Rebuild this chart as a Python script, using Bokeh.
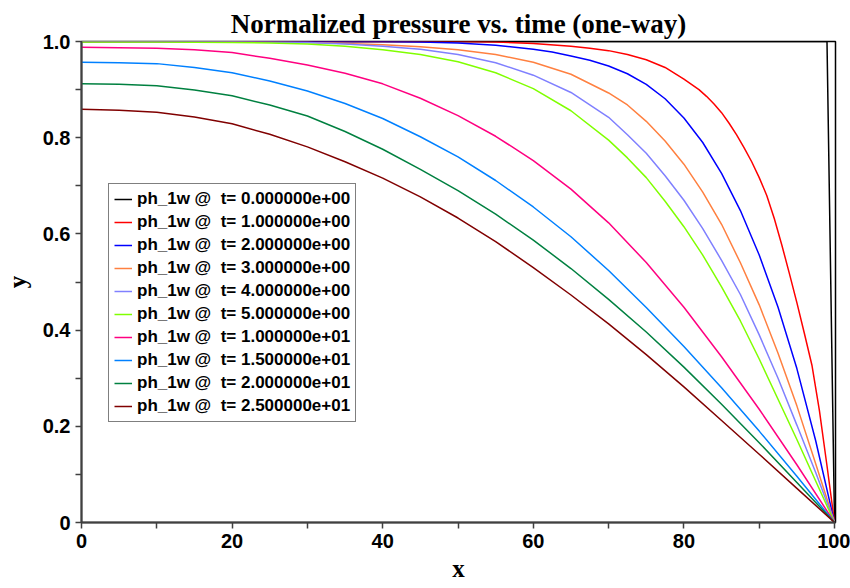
from bokeh.plotting import figure
from bokeh.models import Range1d, FixedTicker, Legend, LegendItem
from bokeh.embed import file_html
from bokeh.resources import INLINE

# ---------------- data ----------------
title_text = "Normalized pressure vs. time (one-way)"
x_label = "x"
y_label = "y"

x_ticks = [0, 20, 40, 60, 80, 100]
x_minor = [10, 30, 50, 70, 90]
y_ticks = [0, 0.2, 0.4, 0.6, 0.8, 1.0]
y_tick_labels = ["0", "0.2", "0.4", "0.6", "0.8", "1.0"]
y_minor = [0.1, 0.3, 0.5, 0.7, 0.9]

names = [
    "ph_1w @  t= 0.000000e+00",
    "ph_1w @  t= 1.000000e+00",
    "ph_1w @  t= 2.000000e+00",
    "ph_1w @  t= 3.000000e+00",
    "ph_1w @  t= 4.000000e+00",
    "ph_1w @  t= 5.000000e+00",
    "ph_1w @  t= 1.000000e+01",
    "ph_1w @  t= 1.500000e+01",
    "ph_1w @  t= 2.000000e+01",
    "ph_1w @  t= 2.500000e+01",
]
colors = ["#000000", "#ff0000", "#0000ff", "#ff8040", "#8080ff",
          "#80ff00", "#ff0080", "#0080ff", "#008040", "#800000"]

x_t0 = [0, 99, 100]
y_t0 = [1.0, 1.0, 0.0]

x_t1 = [0, 50, 55, 60, 65, 67.5, 70, 72.5, 75, 77.5, 80, 82, 83, 84, 85, 86, 87, 88,
        89, 90, 91, 92, 93, 94, 95, 96, 97, 98, 99, 100]
y_t1 = [1.0, 1.0, 0.999, 0.996, 0.990, 0.986, 0.981, 0.973, 0.962, 0.946, 0.922,
        0.900, 0.886, 0.870, 0.852, 0.830, 0.806, 0.779, 0.750, 0.717, 0.680, 0.632,
        0.577, 0.518, 0.457, 0.393, 0.327, 0.232, 0.118, 0.0]

x_t2 = [0, 40, 45, 50, 55, 60, 62.5, 65, 67.5, 70, 72.5, 75, 77.5, 80, 82.5, 85,
        87.5, 90, 92.5, 95, 97.5, 100]
y_t2 = [1.0, 1.0, 0.999, 0.997, 0.992, 0.984, 0.978, 0.970, 0.961, 0.949, 0.933,
        0.911, 0.881, 0.841, 0.790, 0.726, 0.6485, 0.556, 0.4475, 0.320, 0.170, 0.0]

x_t3 = [0, 20, 30, 35, 40, 45, 50, 55, 60, 65, 70, 72.5, 75, 77.5, 80, 82.5, 85,
        87.5, 90, 92.5, 95, 97.5, 100]
y_t3 = [1.0, 0.9995, 0.998, 0.996, 0.993, 0.989, 0.983, 0.973, 0.957, 0.932, 0.893,
        0.868, 0.834, 0.793, 0.745, 0.687, 0.620, 0.540, 0.4525, 0.352, 0.2425,
        0.122, 0.0]

x_t4 = [0, 20, 30, 35, 40, 45, 50, 55, 60, 65, 70, 72.5, 75, 77.5, 80, 82.5, 85,
        87.5, 90, 92.5, 95, 97.5, 100]
y_t4 = [1.0, 0.9995, 0.998, 0.995, 0.990, 0.984, 0.973, 0.956, 0.930, 0.894, 0.8425,
        0.806, 0.7675, 0.721, 0.670, 0.611, 0.545, 0.474, 0.390, 0.300, 0.2025,
        0.104, 0.0]

x_t5 = [0, 10, 20, 25, 30, 35, 40, 45, 50, 55, 60, 65, 70, 72.5, 75, 77.5, 80,
        82.5, 85, 87.5, 90, 95, 100]
y_t5 = [0.999, 0.999, 0.998, 0.997, 0.995, 0.990, 0.983, 0.973, 0.958, 0.935,
        0.902, 0.856, 0.795, 0.758, 0.717, 0.668, 0.615, 0.556, 0.490, 0.419,
        0.340, 0.1725, 0.0]

x_t10 = [0, 5, 10, 15, 20, 25, 30, 35, 40, 45, 50, 55, 60, 65, 70, 75, 80, 85, 90,
         95, 100]
y_t10 = [0.988, 0.987, 0.986, 0.983, 0.977, 0.965, 0.951, 0.934, 0.912, 0.882,
         0.846, 0.803, 0.7525, 0.693, 0.623, 0.5405, 0.4475, 0.3445, 0.2355, 0.120,
         0.0]

x_t15 = [0, 5, 10, 15, 20, 25, 30, 35, 40, 45, 50, 55, 60, 65, 70, 75, 80, 85, 90,
         95, 100]
y_t15 = [0.957, 0.956, 0.954, 0.946, 0.935, 0.918, 0.897, 0.871, 0.840, 0.802,
         0.760, 0.711, 0.656, 0.594, 0.524, 0.447, 0.366, 0.280, 0.190, 0.096, 0.0]

x_t20 = [0, 5, 10, 15, 20, 25, 30, 35, 40, 45, 50, 55, 60, 65, 70, 75, 80, 85, 90,
         95, 100]
y_t20 = [0.912, 0.911, 0.908, 0.899, 0.887, 0.868, 0.845, 0.813, 0.776, 0.734,
         0.690, 0.641, 0.587, 0.528, 0.464, 0.396, 0.323, 0.246, 0.166, 0.083, 0.0]

x_t25 = [0, 5, 10, 15, 20, 25, 30, 35, 40, 45, 50, 55, 60, 65, 70, 75, 80, 85, 90,
         95, 100]
y_t25 = [0.859, 0.857, 0.853, 0.843, 0.829, 0.807, 0.781, 0.750, 0.716, 0.677,
         0.633, 0.584, 0.530, 0.473, 0.413, 0.349, 0.282, 0.212, 0.142, 0.071, 0.0]

xs = [x_t0, x_t1, x_t2, x_t3, x_t4, x_t5, x_t10, x_t15, x_t20, x_t25]
ys = [y_t0, y_t1, y_t2, y_t3, y_t4, y_t5, y_t10, y_t15, y_t20, y_t25]

# ---------------- figure ----------------
p = figure(width=850, height=588, output_backend="svg", toolbar_location=None,
           x_range=Range1d(0, 100.13), y_range=Range1d(0, 1.0),
           min_border_left=79, min_border_right=15, min_border_top=41,
           min_border_bottom=66, title=title_text)
p.background_fill_color = "white"
p.border_fill_color = "white"
p.grid.visible = False
p.outline_line_color = "black"
p.outline_line_width = 1.5

p.title.align = "center"
p.title.text_font = "Liberation Serif"
p.title.text_font_size = "27px"
p.title.text_font_style = "bold"
p.title.text_color = "black"
p.title.offset = 0
p.title.standoff = 6

for ax in (p.xaxis[0], p.yaxis[0]):
    ax.axis_line_color = "#404040"
    ax.axis_line_width = 2
    ax.major_tick_line_color = "#404040"
    ax.minor_tick_line_color = "#404040"
    ax.major_tick_line_width = 1.5
    ax.minor_tick_line_width = 1.5
    ax.major_tick_in = 0
    ax.major_tick_out = 6
    ax.minor_tick_in = 0
    ax.minor_tick_out = 6
    ax.major_label_text_font = "Liberation Sans"
    ax.major_label_text_font_style = "bold"
    ax.major_label_text_font_size = "20px"
    ax.major_label_text_color = "black"
    ax.axis_label_text_font = "Liberation Serif"
    ax.axis_label_text_font_style = "bold"
    ax.axis_label_text_font_size = "25px"
    ax.axis_label_text_color = "black"

p.xaxis[0].ticker = FixedTicker(ticks=x_ticks, minor_ticks=x_minor)
p.yaxis[0].ticker = FixedTicker(ticks=y_ticks, minor_ticks=y_minor)
p.yaxis[0].major_label_overrides = {t: s for t, s in zip(y_ticks, y_tick_labels)}
p.xaxis[0].axis_label = x_label
p.yaxis[0].axis_label = y_label
p.xaxis[0].major_label_standoff = 5
p.xaxis[0].axis_label_standoff = 4
p.yaxis[0].axis_label_standoff = 9

items = []
for name, c, x, y in zip(names, colors, xs, ys):
    r = p.line(x, y, line_color=c, line_width=1.5)
    items.append(LegendItem(label=name, renderers=[r]))

legend = Legend(items=items, location=(27, 100))
legend.border_line_color = "black"
legend.border_line_width = 1
legend.background_fill_color = "white"
legend.background_fill_alpha = 1.0
legend.label_text_font = "Liberation Sans"
legend.label_text_font_style = "bold"
legend.label_text_font_size = "17px"
legend.label_text_color = "black"
legend.glyph_width = 18
legend.glyph_height = 20
legend.label_height = 20
legend.label_standoff = 5
legend.spacing = 3
legend.padding = 5
legend.margin = 0
p.add_layout(legend)

open("out.html", "w").write(file_html(p, INLINE))
